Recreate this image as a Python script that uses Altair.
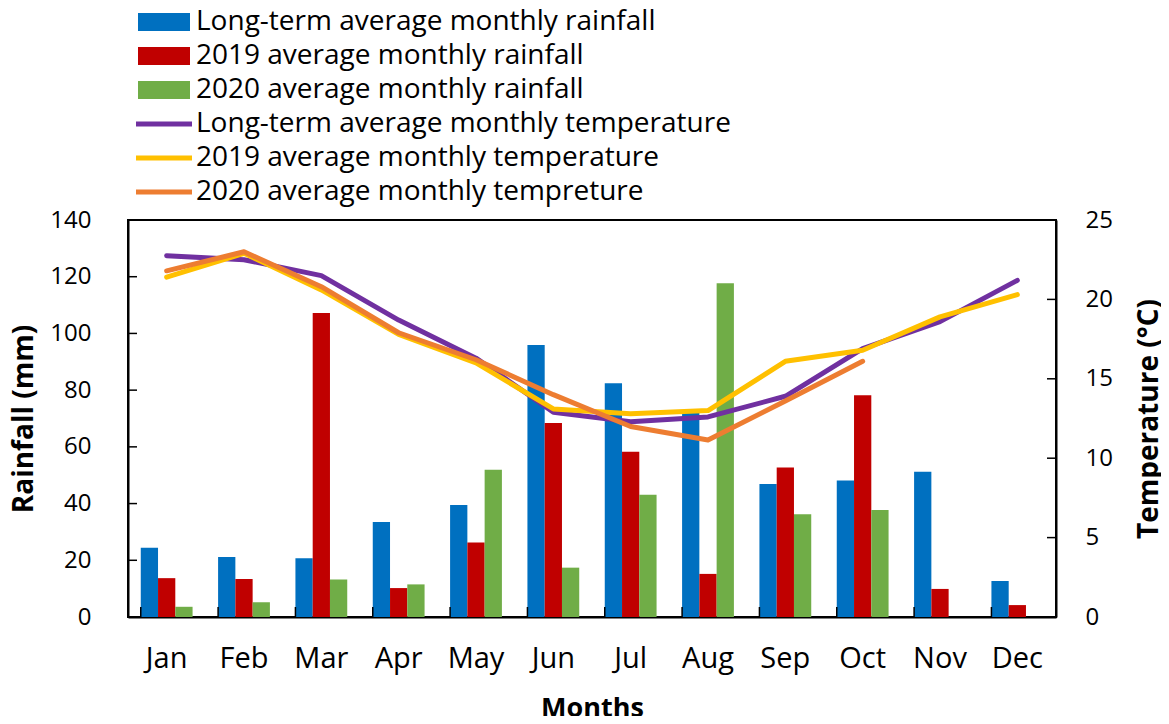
import altair as alt
import pandas as pd

months = ["Jan", "Feb", "Mar", "Apr", "May", "Jun", "Jul", "Aug", "Sep", "Oct", "Nov", "Dec"]

bar_series = ["Long-term average monthly rainfall", "2019 average monthly rainfall", "2020 average monthly rainfall"]
line_series = ["Long-term average monthly temperature", "2019 average monthly temperature", "2020 average monthly tempreture"]
bar_colors = ["#0070C0", "#C00000", "#70AD47"]
line_colors = ["#7030A0", "#FFC000", "#ED7D31"]

rain_lt = [24.4, 21.2, 20.7, 33.5, 39.5, 95.9, 82.4, 72.0, 46.9, 48.1, 51.2, 12.7]
rain_2019 = [13.7, 13.4, 107.2, 10.2, 26.3, 68.4, 58.3, 15.2, 52.7, 78.2, 9.9, 4.2]
rain_2020 = [3.6, 5.2, 13.2, 11.5, 51.9, 17.4, 43.1, 117.7, 36.2, 37.7, None, None]

temp_lt = [22.75, 22.5, 21.5, 18.7, 16.3, 12.9, 12.3, 12.6, 13.9, 16.9, 18.6, 21.2]
temp_2019 = [21.4, 22.9, 20.6, 17.8, 16.0, 13.1, 12.8, 13.0, 16.1, 16.8, 18.9, 20.3]
temp_2020 = [21.8, 23.0, 20.8, 17.9, 16.2, 14.0, 12.0, 11.15, 13.6, 16.1, None, None]

rain_ticks = [0, 20, 40, 60, 80, 100, 120, 140]
temp_ticks = [0, 5, 10, 15, 20, 25]

bar_rows = []
for s, vals in zip(bar_series, [rain_lt, rain_2019, rain_2020]):
    for m, v in zip(months, vals):
        if v is not None:
            bar_rows.append({"month": m, "series": s, "value": v})
bars_df = pd.DataFrame(bar_rows)

line_rows = []
for i, (s, vals) in enumerate(zip(line_series, [temp_lt, temp_2019, temp_2020])):
    for m, v in zip(months, vals):
        if v is not None:
            line_rows.append({"month": m, "series": s, "temp": v, "k": i})
lines_df = pd.DataFrame(line_rows)

FONT = "Open Sans"
W, H = 928, 397

x_axis = alt.Axis(title="Months", labelAngle=0, labelFontSize=29, labelPadding=27,
                  titleFontSize=27, titleFontWeight="bold", titlePadding=22,
                  ticks=False, tickSize=0, domainColor="black", domainWidth=2,
                  labelColor="black", titleColor="black")
x_scale = alt.Scale(paddingInner=0.33, paddingOuter=0.165)
x_enc = alt.X("month:N", sort=months, scale=x_scale, axis=x_axis)

y_rain = alt.Y("value:Q", scale=alt.Scale(domain=[0, 140], nice=False),
               axis=alt.Axis(title="Rainfall (mm)", values=rain_ticks, grid=False, ticks=False,
                             tickSize=0, labelPadding=37, labelFontSize=24, titleFontSize=28,
                             titleFontWeight="bold", titlePadding=11, domainColor="black",
                             domainWidth=2, labelColor="black", titleColor="black"))
y_temp = alt.Y("temp:Q", scale=alt.Scale(domain=[0, 25], nice=False),
               axis=alt.Axis(title="Temperature (°C)", orient="right", values=temp_ticks, grid=False,
                             ticks=False, tickSize=0, labelPadding=29, labelFontSize=24,
                             titleFontSize=28, titleFontWeight="bold", titlePadding=23,
                             titleAngle=270, titleBaseline="top",
                             domainColor="black", domainWidth=2, labelColor="black",
                             titleColor="black"))

bars = alt.Chart(bars_df).mark_bar().encode(
    x=x_enc,
    xOffset=alt.XOffset("series:N", sort=bar_series, scale=alt.Scale(paddingInner=0, paddingOuter=0)),
    y=y_rain,
    color=alt.Color("series:N", sort=bar_series,
                    scale=alt.Scale(domain=bar_series, range=bar_colors),
                    legend=alt.Legend(title=None, orient="none", legendX=10, legendY=-212,
                                      symbolType="M-1.4,-0.9H3.8V0.9H-1.4Z", symbolSize=400,
                                      symbolStrokeWidth=0, labelFontSize=28, labelOffset=30,
                                      rowPadding=6, padding=0, labelColor="black",
                                      labelLimit=900)),
)

lticks = alt.Chart(pd.DataFrame({"value": rain_ticks})).mark_rule(color="black", strokeWidth=1.5).encode(
    y=y_rain, x=alt.value(0), x2=alt.value(9))

xticks = alt.Chart(pd.DataFrame({"month": months})).mark_rule(color="black", strokeWidth=1.5).encode(
    x=alt.X("month:N", sort=months, scale=x_scale, axis=x_axis, bandPosition=0),
    y=alt.value(H - 10), y2=alt.value(H))

lines = alt.Chart(lines_df).mark_line(strokeWidth=5, strokeCap="round", strokeJoin="round").encode(
    x=x_enc,
    y=y_temp,
    stroke=alt.Stroke("series:N", sort=line_series,
                      scale=alt.Scale(domain=line_series, range=line_colors),
                      legend=alt.Legend(title=None, orient="none", legendX=10, legendY=-110,
                                        symbolType="M-1.6,0H4.0", symbolSize=400,
                                        symbolStrokeWidth=5, labelFontSize=28, labelOffset=30,
                                        rowPadding=6, padding=0, labelColor="black",
                                        labelLimit=900)),
    order=alt.Order("k:Q"),
)

rticks = alt.Chart(pd.DataFrame({"temp": temp_ticks})).mark_rule(color="black", strokeWidth=1.5).encode(
    y=y_temp, x=alt.value(W - 9), x2=alt.value(W))

rain_layer = alt.layer(bars, lticks, xticks)
temp_layer = alt.layer(lines, rticks)

chart = alt.layer(rain_layer, temp_layer).resolve_scale(
    y="independent"
).properties(
    width=W, height=H,
    padding={"left": 120, "top": 212, "right": 105, "bottom": 99},
    autosize=alt.AutoSizeParams(type="none"),
).configure_view(
    stroke="black", strokeWidth=2
).configure_axis(
    labelFont=FONT, titleFont=FONT
).configure_legend(
    labelFont=FONT
)

chart.save("out.html", embed_options={"renderer": "svg", "actions": False})
